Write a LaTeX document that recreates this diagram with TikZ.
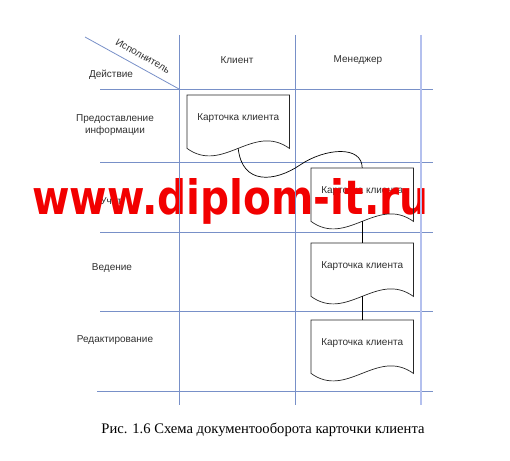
\documentclass[tikz,border=0pt]{standalone}
\usepackage{fontspec}
\setmainfont{Liberation Serif}
\newfontfamily\arialf{Liberation Sans}
\newfontfamily\wmfont{DejaVu Sans}
\usetikzlibrary{calc}
\definecolor{gridblue}{HTML}{7890C8}
\definecolor{gridlight}{HTML}{B4C0EE}
\definecolor{txtgray}{HTML}{303030}
\definecolor{wmred}{HTML}{F20000}
\newcommand{\docpath}[1]{%
  \draw[docline] (#1.north west) -- (#1.north east) -- ($(#1.south east)+(0,7)$)
    .. controls ($(#1.south west)+(66,-19)$) and ($(#1.south west)+(36,33)$) ..
    ($(#1.south west)+(0,7)$) -- cycle;}
\begin{document}
\begin{tikzpicture}[x=1pt,y=-1pt,
  lbl/.style={font=\arialf\fontsize{10}{12}\selectfont, text=txtgray, inner sep=0pt, align=center},
  docnode/.style={lbl, minimum width=102pt, minimum height=46pt, anchor=north west},
  gridline/.style={draw=gridblue, line width=0.8pt},
  gridedge/.style={draw=gridlight, line width=1.6pt},
  docline/.style={draw=black!85, line width=0.7pt},
  conn/.style={draw=black, line width=0.7pt}]
\useasboundingbox (0,0) rectangle (510,460);
% labels
\node[lbl, rotate=-29.5] (hdiag) at (143,56) {Исполнитель};
\node[lbl] (hact) at (111,75) {Действие};
\node[lbl] (hcl) at (237,60) {Клиент};
\node[lbl] (hmg) at (358,60) {Менеджер};
\node[lbl] (r1) at (115,125) {Предоставление\\информации};
\node[lbl] (r2) at (111,201) {Учет};
\node[lbl] (r3) at (112,268) {Ведение};
\node[lbl] (r4) at (115,340) {Редактирование};
% documents
\node[docnode] (d1) at (187,95) {Карточка клиента};
\node[docnode] (d2) at (311,168) {Карточка клиента};
\node[docnode] (d3) at (311,243) {Карточка клиента};
\node[docnode] (d4) at (311,320) {Карточка клиента};
% watermark
\node[anchor=base west, inner sep=0pt, text=wmred, font=\wmfont\bfseries] (wm) at (32,214) {\resizebox{396pt}{36pt}{www.diplom-it.ru}};
% grid
\draw[gridline] (100,89) -- (433,89);
\draw[gridline] (100,162) -- (433,162);
\draw[gridline] (100,232) -- (433,232);
\draw[gridline] (100,311) -- (433,311);
\draw[gridline] (97,391) -- (433,391);
\draw[gridline] (179,35) -- (179,405);
\draw[gridline] (295,35) -- (295,405);
\draw[gridedge] (421,35) -- (421,405);
\draw[gridline] (85,37) -- (179,89);
% document outlines
\docpath{d1}
\docpath{d2}
\docpath{d3}
\docpath{d4}
% connectors
\coordinate (cmid) at (300,165);
\draw[conn] ($(d1.south)+(0,7)$) .. controls ($(d1.south)+(4,44)$) and (275,182) .. (cmid)
  .. controls (325,148) and ($(d2.north)+(0,-23)$) .. (d2.north);
\draw[conn] ($(d2.south)+(0,7)$) -- (d3.north);
\draw[conn] ($(d3.south)+(0,7)$) -- (d4.north);
% caption
\node[font=\fontsize{14.6}{16}\selectfont, inner sep=0pt] (cap) at (263,430) {Рис. 1.6 Схема документооборота карточки клиента};
\end{tikzpicture}
\end{document}
